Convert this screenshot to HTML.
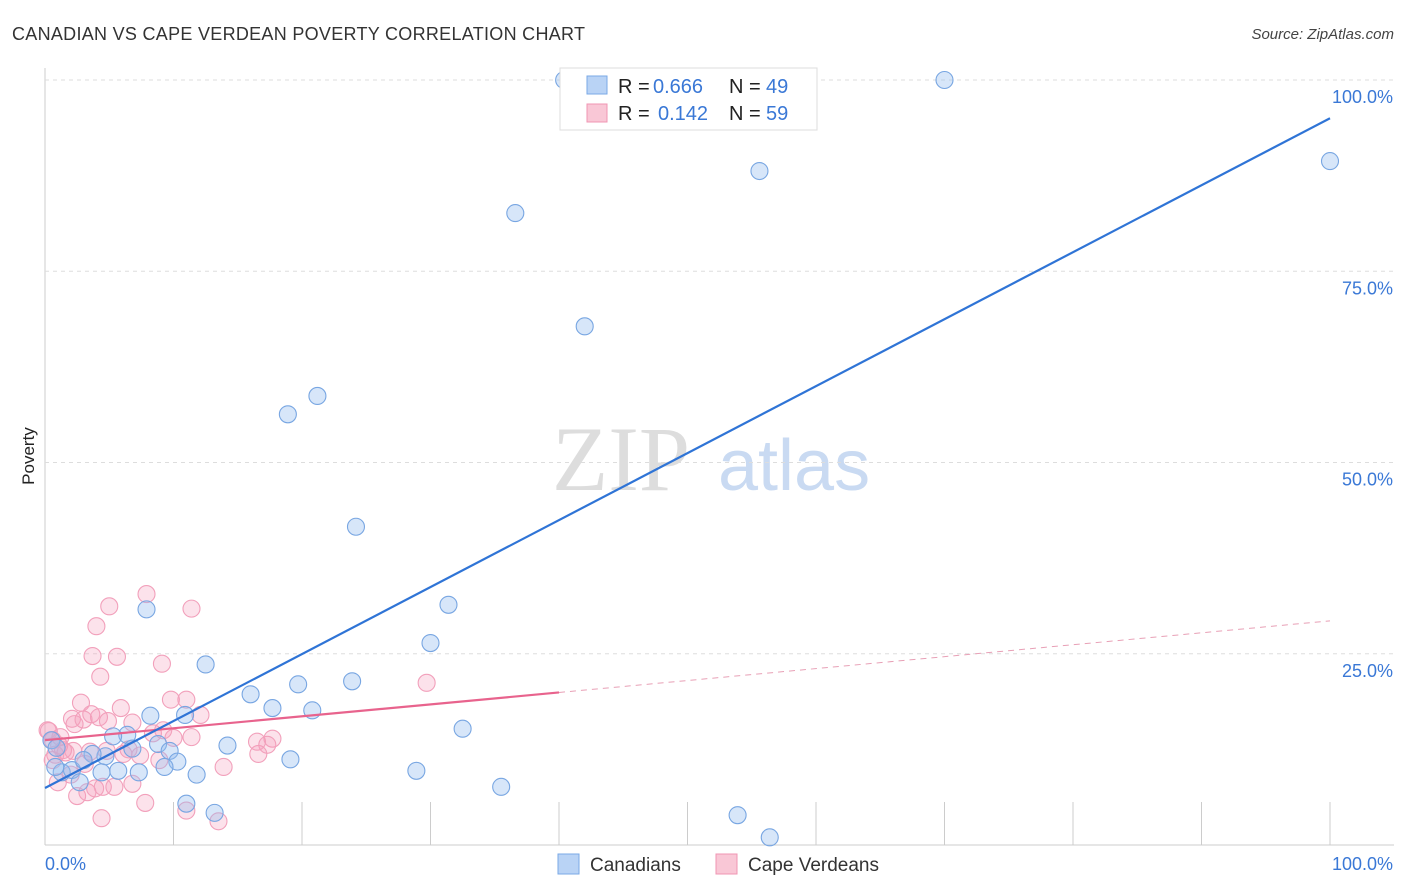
<!DOCTYPE html>
<html><head><meta charset="utf-8"><style>
body{margin:0;background:#fff;font-family:"Liberation Sans",sans-serif;}
svg{display:block}
</style></head><body>
<svg id="chart" width="1406" height="892">
<text x="12" y="40" font-size="18" fill="#333" textLength="573">CANADIAN VS CAPE VERDEAN POVERTY CORRELATION CHART</text>
<text x="1394" y="39" font-size="15" fill="#444" font-style="italic" text-anchor="end">Source: ZipAtlas.com</text>
<text x="34" y="456" font-size="17" fill="#222" text-anchor="middle" transform="rotate(-90 34 456)">Poverty</text>
<g><text x="552" y="490" font-size="92" fill="#ddd" font-family="Liberation Serif,serif">ZIP</text><text x="718" y="490" font-size="72" fill="#c9daf2">atlas</text></g>
<g id="grid"></g><g id="marks"></g>
<g>
<rect x="560" y="68" width="257" height="62" fill="#fff" stroke="#ddd"/>
<rect x="587" y="76" width="20" height="18" fill="#b9d3f5" stroke="#7aa8e6"/>
<rect x="587" y="104" width="20" height="18" fill="#f9c7d6" stroke="#f095b3"/>
<text x="618" y="93" font-size="20" fill="#222">R =</text>
<text x="653" y="93" font-size="20" fill="#3a78d6">0.666</text>
<text x="729" y="93" font-size="20" fill="#222">N =</text>
<text x="766" y="93" font-size="20" fill="#3a78d6">49</text>
<text x="618" y="120" font-size="20" fill="#222">R =</text>
<text x="658" y="120" font-size="20" fill="#3a78d6">0.142</text>
<text x="729" y="120" font-size="20" fill="#222">N =</text>
<text x="766" y="120" font-size="20" fill="#3a78d6">59</text>
</g>
<g>
<rect x="558" y="854" width="21" height="20" fill="#b9d3f5" stroke="#7aa8e6"/>
<text x="590" y="871" font-size="19" fill="#333">Canadians</text>
<rect x="716" y="854" width="21" height="20" fill="#f9c7d6" stroke="#f095b3"/>
<text x="748" y="871" font-size="19" fill="#333">Cape Verdeans</text>
</g>
</svg>
<script>
const blueX=[40.4,70,100,55.6,36.6,42,21.2,18.9,24.2,31.4,30,7.9,12.5,16,19.7,23.9,17.7,20.8,32.5,10.9,8.2,14.2,6.4,5.3,8.8,9.7,6.8,4.7,3.7,10.3,9.3,7.3,5.7,4.4,1.3,2.1,3,0.8,0.5,0.9,2.7,11.8,19.1,28.9,35.5,11,13.2,53.9,56.4];
const blueY=[100,100,89.4,88.1,82.6,67.8,58.7,56.3,41.6,31.4,26.4,30.8,23.6,19.7,21,21.4,17.9,17.6,15.2,17,16.9,13,14.4,14.2,13.2,12.3,12.6,11.6,11.9,10.9,10.2,9.5,9.7,9.5,9.5,9.8,11.1,10.2,13.7,12.7,8.2,9.2,11.2,9.7,7.6,5.4,4.2,3.9,1.0];
const pinkX=[7.9,5,11.4,4,3.7,5.6,9.1,4.3,2.8,5.9,9.8,6.8,11,3.6,4.2,4.9,2.3,8.4,11.4,10,0.6,1.4,2.2,3.5,4.8,6.1,7.4,8.9,0.6,17.7,17.3,16.6,13.9,1,2.5,3.3,3.9,4.5,5.4,6.8,7.8,11,13.5,4.4,0.2,1.2,29.7,1.1,0.8,1.6,3.1,9.2,2.1,16.5,12.1,6.5,2,0.3,3];
const pinkY=[32.8,31.2,30.9,28.6,24.7,24.6,23.7,22,18.6,17.9,19,16,19,17.1,16.7,16.2,15.8,14.6,14.1,14,13.7,12.4,12.3,12.2,12.3,11.9,11.7,11.1,11.1,13.9,13.1,11.9,10.2,8.2,6.4,6.9,7.4,7.6,7.6,8.0,5.5,4.5,3.1,3.5,15,14.1,21.2,13,11.8,12.1,10.6,15,16.5,13.5,17,12.5,9.2,14.9,16.4];
const regBlue=[7.45,95.0];
const regPink=[13.7,29.3];
const yTicks=[25,50,75,100];
const ns="http://www.w3.org/2000/svg";
const X=v=>45+v*12.85, Y=v=>845-v*7.65;
function mk(tag,at,parent){const e=document.createElementNS(ns,tag);for(const k in at)e.setAttribute(k,at[k]);parent.appendChild(e);return e;}
const grid=document.getElementById('grid'),marks=document.getElementById('marks');
const ax=mk('line',{x1:45,y1:68,x2:45,y2:845,stroke:'#ccc'},grid);


const bx=mk('line',{x1:45,y1:845,x2:1394,y2:845,stroke:'#ccc'},grid);


for(const t of yTicks){
 const l=mk('line',{x1:45,y1:Y(t),x2:1394,y2:Y(t),stroke:'#ddd','stroke-dasharray':'4,4'},grid);
 
 
 const tx=mk('text',{x:1393,y:Y(t)+23,'font-size':18,fill:'#3a78d6','text-anchor':'end'},grid);
 tx.textContent=t.toFixed(1)+'%';
 
 
}
for(let i=1;i<=10;i++){
 const x=45+i*128.5;
 const l=mk('line',{x1:x,y1:845,x2:x,y2:802,stroke:'#ccc'},grid);
 
 
}
const t0=mk('text',{x:45,y:870,'font-size':18,fill:'#3a78d6'},grid);t0.textContent='0.0%';


const t1=mk('text',{x:1393,y:870,'font-size':18,fill:'#3a78d6','text-anchor':'end'},grid);t1.textContent='100.0%';


pinkX.forEach((x,i)=>{const c=mk('circle',{cx:X(x),cy:Y(pinkY[i]),r:8.5,fill:'rgba(246,160,188,0.3)',stroke:'#f2a0bb','stroke-width':1.1},marks);
 
 });
blueX.forEach((x,i)=>{const c=mk('circle',{cx:X(x),cy:Y(blueY[i]),r:8.5,fill:'rgba(150,190,240,0.38)',stroke:'#78a6e2','stroke-width':1.1},marks);
 
 });
const pv=x=>regPink[0]+(regPink[1]-regPink[0])*x/100;
const p1=mk('line',{x1:X(0),y1:Y(pv(0)),x2:X(40),y2:Y(pv(40)),stroke:'#e8638d','stroke-width':2.2},marks);


const p2=mk('line',{x1:X(40),y1:Y(pv(40)),x2:X(100),y2:Y(pv(100)),stroke:'#e8a0b6','stroke-width':1,'stroke-dasharray':'6,5'},marks);


const b1=mk('line',{x1:X(0),y1:Y(regBlue[0]),x2:X(100),y2:Y(regBlue[1]),stroke:'#2f74d6','stroke-width':2.2},marks);


</script>
</body></html>
